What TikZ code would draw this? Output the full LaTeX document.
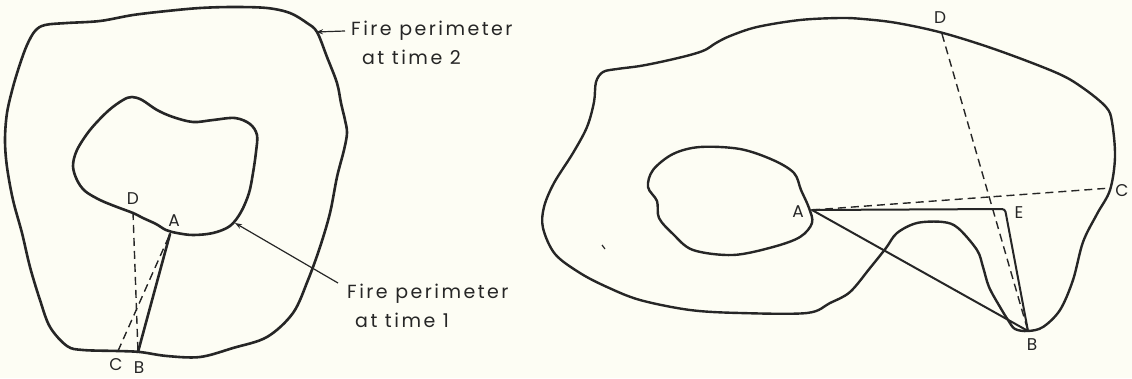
\documentclass[tikz,border=0pt]{standalone}
\usepackage{fontspec}
\setmainfont{Poppins}
\newfontfamily\spacedfont[LetterSpace=13]{Poppins}
\usetikzlibrary{arrows.meta}
\definecolor{ink}{HTML}{262626}
\definecolor{paper}{HTML}{FDFDF4}
\begin{document}
\begin{tikzpicture}[x=1pt,y=-1pt,
  perim/.style={draw=ink, line width=2.6pt, line join=round, line cap=round},
  chord/.style={draw=ink, line width=2pt, line cap=round},
  dashchord/.style={draw=ink, line width=1.4pt, dash pattern=on 8pt off 5pt},
  ptlabel/.style={font=\fontsize{17}{17}\selectfont, text=ink, inner sep=0pt},
  lbl/.style={font=\spacedfont\fontsize{19}{29}\selectfont, text=ink, inner sep=0pt, align=left, anchor=north west},
  pointer/.style={draw=ink, line width=1.2pt, -{Stealth[length=7pt,width=5pt]}}]
\fill[paper] (0,0) rectangle (1132,378);
\useasboundingbox (0,0) rectangle (1132,378);

% ---------- left figure ----------
\draw[perim] plot[smooth cycle, tension=0.55] coordinates {
 (35,31) (45,25) (67,23) (100,21) (133,15) (167,11) (200,8) (233,7) (267,8)
 (290,13) (307,23) (317,32) (327,57) (337,83) (341,103) (345,120) (347,133)
 (344,150) (337,177) (330,213) (320,247) (308,280) (293,313) (267,337) (233,348)
 (200,357) (167,356) (140,352) (118,351) (83,350) (67,346) (50,327) (40,300)
 (30,267) (22,233) (13,200) (7,167) (5,140) (7,113) (13,87) (20,64) (27,45)};
\draw[perim] plot[smooth cycle, tension=0.55] coordinates {
 (132,97) (142,100) (157,110) (173,117) (193,122) (213,120) (235,118) (250,124)
 (257,135) (256,152) (253,173) (249,193) (241,212) (230,226) (213,233) (193,235)
 (177,233) (166,230) (156,224) (143,218) (133,213) (117,207) (100,200) (85,191)
 (77,180) (73,166) (77,150) (90,130) (108,111) (123,100)};

\coordinate (lA) at (170,234);
\coordinate (lB) at (138,352);
\coordinate (lC) at (118,351);
\coordinate (lD) at (133,212);
\draw[chord, line width=2.6pt] (lA) -- (lB);
\draw[dashchord] (lD) -- (lB);
\draw[dashchord] (lC) -- (lA);
\node[ptlabel] (tD) at (133,199) {D};
\node[ptlabel] (tA) at (174,221) {A};
\node[ptlabel] (tC) at (116,365) {C};
\node[ptlabel] (tB) at (139,368) {B};

\node[lbl] (t2) at (351,21) {Fire perimeter\\\hspace*{11pt}at time 2};
\node[lbl] (t1) at (347,284) {Fire perimeter\\\hspace*{8pt}at time 1};
\coordinate (tip2) at (316,32);
\coordinate (tip1) at (235,223);
\draw[pointer] (345,31) -- (tip2);
\draw[pointer] (338,283) -- (tip1);

% ---------- right figure ----------
\draw[perim, line width=2.4pt] plot[smooth cycle, tension=0.55] coordinates {
 (596,82) (603,72) (617,69) (640,66) (665,61) (690,55) (705,50) (716,43)
 (730,36) (757,27) (800,20) (840,18) (863,19) (897,23) (943,33) (997,50)
 (1057,73) (1083,88) (1106,107) (1112,122) (1115,157) (1110,190) (1097,214)
 (1083,242) (1073,280) (1060,310) (1043,327) (1028,331) (1015,329) (1008,320)
 (1000,307) (989,287) (983,267) (977,250) (958,228) (943,222) (917,223)
 (897,233) (886,248) (870,268) (850,292) (830,303) (807,313) (740,313)
 (690,310) (640,300) (607,287) (580,273) (555,254) (543,228) (544,207)
 (554,183) (573,153) (587,127) (594,102)};
\draw[perim, line width=2.4pt] plot[smooth cycle, tension=0.55] coordinates {
 (700,147) (740,149) (773,160) (794,173) (801,190) (809,208) (812,223)
 (800,237) (773,247) (733,255) (693,250) (673,234) (659,218) (657,201)
 (648,187) (653,170) (673,154)};
\draw[ink, line width=1.2pt] (602,245) -- (605,249);

\coordinate (rA) at (812,210);
\coordinate (rE) at (1005,209);
\coordinate (rB) at (1028,331);
\coordinate (rC) at (1111,188);
\coordinate (rD) at (942,34);
\draw[chord, rounded corners=3pt] (rA) -- (rE) -- (rB);
\draw[chord] (rA) -- (rB);
\draw[dashchord] (rA) -- (rC);
\draw[dashchord] (rD) -- (rB);
\node[ptlabel] (uD) at (940,18) {D};
\node[ptlabel] (uA) at (798,212) {A};
\node[ptlabel] (uE) at (1019,213) {E};
\node[ptlabel] (uC) at (1122,191) {C};
\node[ptlabel] (uB) at (1032,345) {B};
\end{tikzpicture}
\end{document}
